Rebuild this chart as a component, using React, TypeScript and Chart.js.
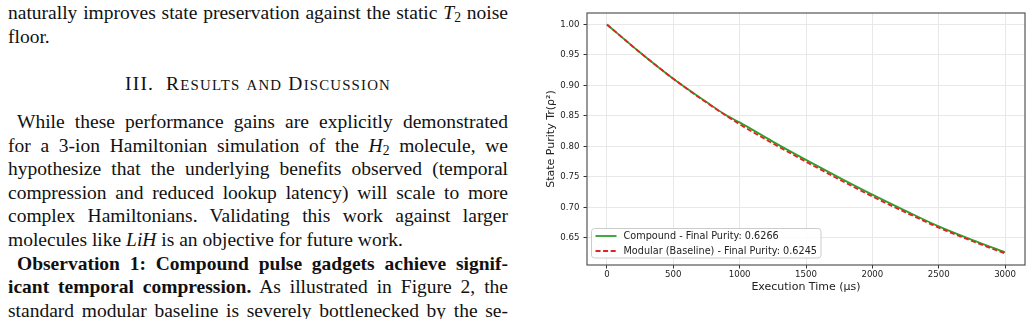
import React, { useEffect, useRef } from "react";
import { Chart, registerables } from "chart.js";

Chart.register(...registerables);

// ---- data ----
const compoundTimes = [0, 250, 500, 750, 900, 1000, 1250, 1500, 1750, 2000, 2250, 2500, 2750, 3000];
const compoundPurity = [1.0, 0.954, 0.911, 0.873, 0.851, 0.8395, 0.808, 0.778, 0.749, 0.721, 0.6945, 0.669, 0.647, 0.6266];
const modularTimes = [0, 250, 500, 750, 1000, 1250, 1500, 1750, 2000, 2250, 2500, 2750, 3000];
const modularPurity = [1.0, 0.954, 0.911, 0.872, 0.8365, 0.805, 0.775, 0.746, 0.718, 0.692, 0.667, 0.645, 0.6245];
const xTickValues = [0, 500, 1000, 1500, 2000, 2500, 3000];
const yTickValues = [0.65, 0.7, 0.75, 0.8, 0.85, 0.9, 0.95, 1.0];
const seriesLabels = [
  "Compound - Final Purity: 0.6266",
  "Modular (Baseline) - Final Purity: 0.6245",
];
const xAxisTitle = "Execution Time (μs)";
const yAxisTitle = "State Purity Tr(ρ²)";

const SANS = '"DejaVu Sans", sans-serif';
const SERIF = '"Liberation Serif", "Times New Roman", Times, serif';
const FS = 19.5;

function Line(props: any) {
  const { base, indent = 0, align = "justify", children, bold = false } = props;
  return (
    <div
      style={{
        position: "absolute",
        left: 8 + indent,
        width: 500 - indent,
        top: base - 18.6,
        height: 24,
        lineHeight: "24px",
        fontFamily: SERIF,
        fontSize: FS,
        color: "#111",
        textAlign: align,
        textAlignLast: align,
        fontWeight: bold ? "bold" : "normal",
      } as any}
    >
      {children}
    </div>
  );
}

const I = (p: any) => <span style={{ fontStyle: "italic" }}>{p.children}</span>;
const Sub = (p: any) => (
  <span style={{ fontSize: "0.7em", position: "relative", top: "0.22em" }}>{p.children}</span>
);
const Sc = (p: any) => <span style={{ fontSize: "0.76em" }}>{p.children}</span>;

export default function App() {
  const ref = useRef<HTMLCanvasElement>(null);

  useEffect(() => {
    const canvas = ref.current!;
    const framePlugin = {
      id: "frameAndLegend",
      afterDatasetsDraw(chart: any) {
        const { ctx, chartArea: a } = chart;
        ctx.save();
        ctx.strokeStyle = "#555";
        ctx.lineWidth = 1.2;
        ctx.strokeRect(a.left, a.top, a.right - a.left, a.bottom - a.top);
        ctx.restore();
      },
      afterDraw(chart: any) {
        const { ctx, chartArea: a } = chart;
        const ds = chart.data.datasets;
        const bx = a.left + 4.5;
        const bh = 29.5;
        const by = a.bottom - 7 - bh;
        ctx.save();
        ctx.font = `9.7px ${SANS}`;
        let maxW = 0;
        ds.forEach((d: any) => (maxW = Math.max(maxW, ctx.measureText(d.label).width)));
        const bw = 32 + maxW + 4;
        const r = 3;
        ctx.beginPath();
        ctx.moveTo(bx + r, by);
        ctx.lineTo(bx + bw - r, by);
        ctx.arcTo(bx + bw, by, bx + bw, by + r, r);
        ctx.lineTo(bx + bw, by + bh - r);
        ctx.arcTo(bx + bw, by + bh, bx + bw - r, by + bh, r);
        ctx.lineTo(bx + r, by + bh);
        ctx.arcTo(bx, by + bh, bx, by + bh - r, r);
        ctx.lineTo(bx, by + r);
        ctx.arcTo(bx, by, bx + r, by, r);
        ctx.closePath();
        ctx.fillStyle = "rgba(255,255,255,0.8)";
        ctx.fill();
        ctx.strokeStyle = "#cccccc";
        ctx.lineWidth = 1;
        ctx.stroke();
        ds.forEach((d: any, i: number) => {
          const y = by + 7.5 + i * 15;
          ctx.beginPath();
          ctx.setLineDash(d.borderDash || []);
          ctx.strokeStyle = d.borderColor;
          ctx.lineWidth = d.borderWidth;
          ctx.moveTo(bx + 4, y);
          ctx.lineTo(bx + 25, y);
          ctx.stroke();
          ctx.setLineDash([]);
          ctx.fillStyle = "#222";
          ctx.textBaseline = "middle";
          ctx.textAlign = "left";
          ctx.fillText(d.label, bx + 32, y);
        });
        ctx.restore();
      },
    };

    const tickFont = { family: SANS, size: 8.6 };
    const chart = new Chart(canvas, {
      type: "line",
      data: {
        datasets: [
          {
            label: seriesLabels[0],
            data: compoundTimes.map((t, i) => ({ x: t, y: compoundPurity[i] })),
            borderColor: "#2ca02c",
            borderWidth: 1.8,
            pointRadius: 0,
            fill: false,
            cubicInterpolationMode: "monotone",
            order: 2,
          },
          {
            label: seriesLabels[1],
            data: modularTimes.map((t, i) => ({ x: t, y: modularPurity[i] })),
            borderColor: "#e52222",
            borderDash: [5, 2.6],
            borderWidth: 1.8,
            pointRadius: 0,
            fill: false,
            cubicInterpolationMode: "monotone",
            order: 1,
          },
        ],
      } as any,
      options: {
        responsive: false,
        animation: false,
        devicePixelRatio: 1,
        layout: { padding: { left: 0, top: 13, right: 7, bottom: 14 } },
        plugins: {
          legend: { display: false },
          tooltip: { enabled: false },
          title: { display: false },
        },
        scales: {
          x: {
            type: "linear",
            min: -150,
            max: 3150,
            afterFit(s: any) {
              s.height = 40;
            },
            afterBuildTicks(s: any) {
              s.ticks = xTickValues.map((v) => ({ value: v }));
            },
            ticks: {
              callback: (v: any) => String(v),
              font: tickFont,
              color: "#222",
              padding: 1,
              maxRotation: 0,
              autoSkip: false,
            },
            grid: {
              color: "#e8e8e8",
              lineWidth: 1,
              drawTicks: true,
              tickLength: 3.5,
              tickColor: "#333",
              tickWidth: 1,
            },
            border: { display: false },
            title: {
              display: true,
              text: xAxisTitle,
              font: { family: SANS, size: 11, lineHeight: 1.2 },
              color: "#222",
              padding: { top: 0, bottom: 11 },
            },
          },
          y: {
            type: "linear",
            min: 0.6057,
            max: 1.0188,
            afterFit(s: any) {
              s.width = 67;
            },
            afterBuildTicks(s: any) {
              s.ticks = yTickValues.map((v) => ({ value: v }));
            },
            ticks: {
              callback: (v: any) => Number(v).toFixed(2),
              font: tickFont,
              color: "#222",
              padding: 4,
              autoSkip: false,
            },
            grid: {
              color: "#e8e8e8",
              lineWidth: 1,
              drawTicks: true,
              tickLength: 3.5,
              tickColor: "#333",
              tickWidth: 1,
            },
            border: { display: false },
            title: {
              display: true,
              text: yAxisTitle,
              font: { family: SANS, size: 11, lineHeight: 1.2 },
              color: "#222",
              padding: { top: 25, bottom: 0 },
            },
          },
        },
      } as any,
      plugins: [framePlugin],
    });
    return () => chart.destroy();
  }, []);

  const b0 = 128.5;
  const sp = 23.6;
  return (
    <div>
      <Line base={20}>
        naturally improves state preservation against the static <I>T</I>
        <Sub>2</Sub> noise
      </Line>
      <Line base={44} align="left">
        floor.
      </Line>
      <Line base={90.5} align="center">
        <span style={{ letterSpacing: "1.2px" }}>
          III.<span style={{ marginLeft: "0.3em" }}> </span>R<Sc>ESULTS</Sc> <Sc>AND</Sc> D<Sc>ISCUSSION</Sc>
        </span>
      </Line>
      <Line base={b0} indent={9}>
        While these performance gains are explicitly demonstrated
      </Line>
      <Line base={b0 + sp}>
        for a 3-ion Hamiltonian simulation of the <I>H</I>
        <Sub>2</Sub> molecule, we
      </Line>
      <Line base={b0 + 2 * sp}>
        hypothesize that the underlying benefits observed (temporal
      </Line>
      <Line base={b0 + 3 * sp}>
        compression and reduced lookup latency) will scale to more
      </Line>
      <Line base={b0 + 4 * sp}>
        complex Hamiltonians. Validating this work against larger
      </Line>
      <Line base={b0 + 5 * sp} align="left">
        molecules like <I>LiH</I> is an objective for future work.
      </Line>
      <Line base={b0 + 6 * sp} indent={9} bold>
        Observation 1: Compound pulse gadgets achieve signif-
      </Line>
      <Line base={b0 + 7 * sp}>
        <b>icant temporal compression.</b> As illustrated in Figure 2, the
      </Line>
      <Line base={b0 + 8 * sp}>
        standard modular baseline is severely bottlenecked by the se-
      </Line>
      <canvas
        ref={ref}
        width={512}
        height={319}
        style={{ position: "absolute", left: 520, top: 0, width: 512, height: 319 }}
      />
    </div>
  );
}
